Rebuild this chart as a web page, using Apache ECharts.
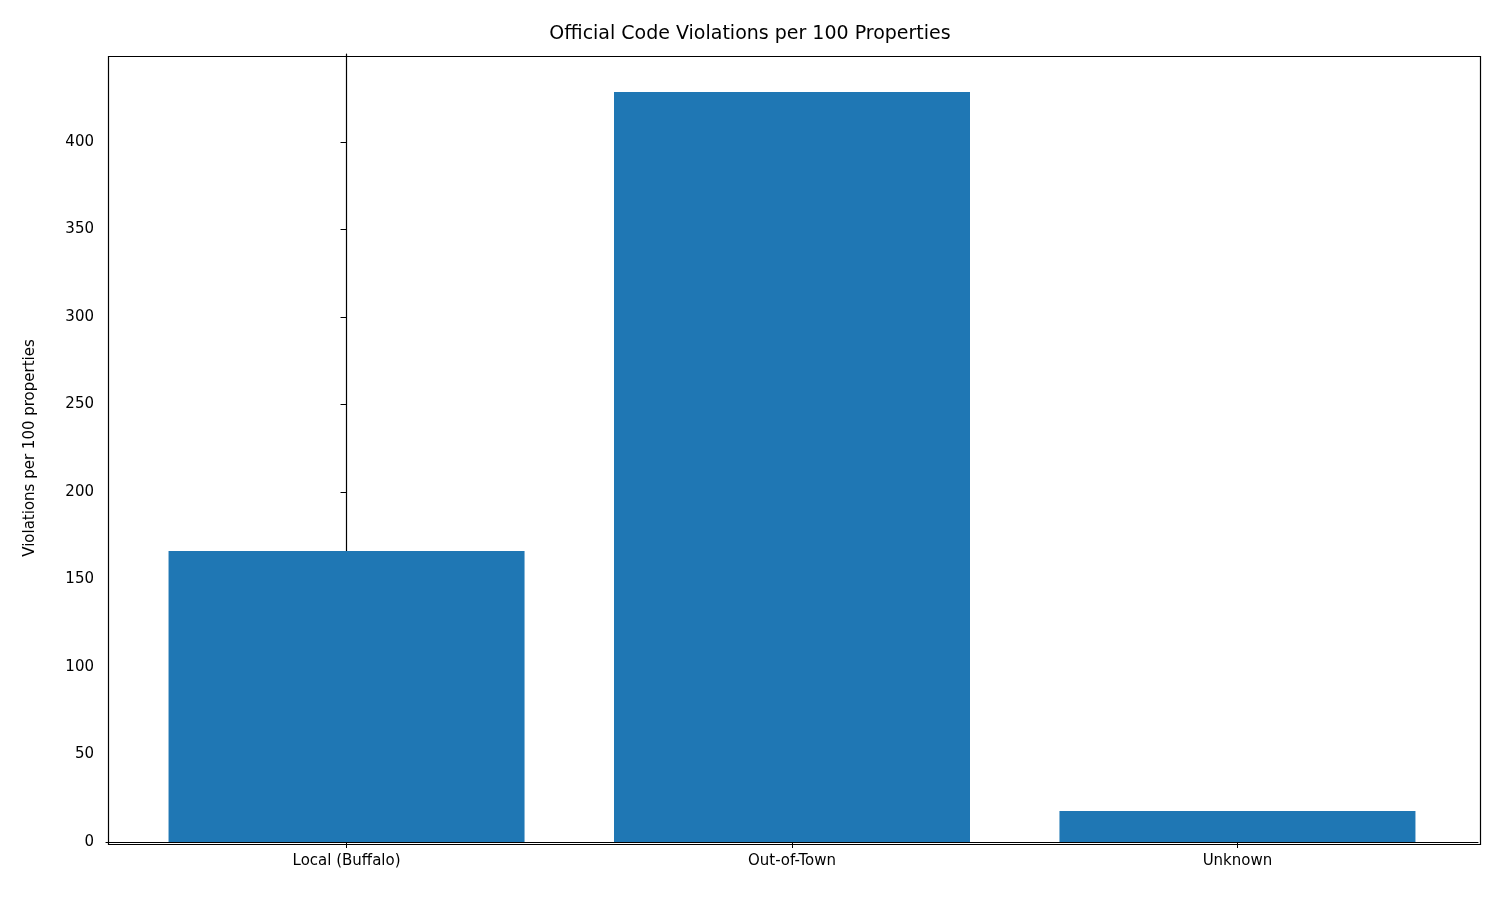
<!DOCTYPE html>
<html>
<head>
<meta charset="utf-8">
<script src="https://cdn.jsdelivr.net/npm/echarts@6/dist/echarts.min.js"></script>
<style>html,body{margin:0;padding:0;background:#fff}#chart{width:1500px;height:900px}</style>
</head>
<body>
<div id="chart"></div>
<script>
var categories = ['Local (Buffalo)', 'Out-of-Town', 'Unknown'];
var values = [166.3, 428.6, 17.7];
var yTicks = [0, 50, 100, 150, 200, 250, 300, 350, 400];

var myChart = echarts.init(document.getElementById('chart'));
var font = 'DejaVu Sans';
var option = {
  backgroundColor: '#ffffff',
  animation: false,
  title: {
    text: 'Official Code Violations per 100 Properties',
    left: 'center',
    top: 20,
    textStyle: { fontFamily: font, fontSize: 19, fontWeight: 'normal', color: '#000' }
  },
  grid: { left: 106, right: 22, top: 54, bottom: 58, containLabel: false },
  xAxis: {
    type: 'value',
    min: -0.54,
    max: 2.54,
    splitLine: { show: false },
    axisLine: { show: true, onZero: false, lineStyle: { color: '#000', width: 1.2 } },
    axisTick: { show: true, inside: false, length: 6, customValues: [0, 1, 2], lineStyle: { color: '#000' } },
    axisLabel: {
      customValues: [0, 1, 2],
      fontFamily: font, fontSize: 15, color: '#000', margin: 12,
      formatter: function (v) { return categories[Math.round(v)]; }
    }
  },
  yAxis: {
    type: 'value',
    min: 0,
    max: 450.3,
    name: 'Violations per 100 properties',
    nameLocation: 'middle',
    nameGap: 68,
    nameTextStyle: { fontFamily: font, fontSize: 15, color: '#000' },
    splitLine: { show: false },
    axisLine: { show: true, lineStyle: { color: '#000', width: 1.2 } },
    axisTick: { show: true, length: 6, customValues: yTicks, lineStyle: { color: '#000' } },
    axisLabel: { customValues: yTicks, fontFamily: font, fontSize: 15, color: '#000', margin: 12 }
  },
  series: [{
    type: 'bar',
    barWidth: 356,
    itemStyle: { color: '#1f77b4' },
    data: values.map(function (v, i) { return [i, v]; })
  }]
};
myChart.setOption(option);
// right and top frame
myChart.setOption({
  graphic: [{
    type: 'rect', left: 106, top: 54,
    shape: { width: 1372, height: 788 },
    style: { fill: 'none', stroke: '#000', lineWidth: 1.2 }, silent: true
  }]
});
</script>
</body>
</html>
